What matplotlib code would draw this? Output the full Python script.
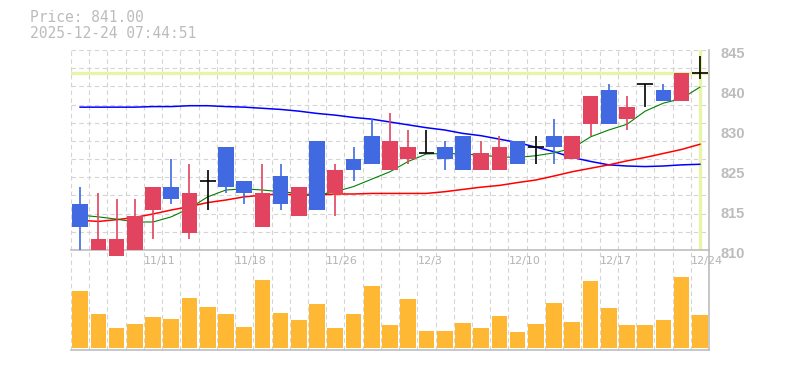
import numpy as np
import matplotlib.pyplot as plt
from matplotlib.transforms import ScaledTranslation

# trading days shown (35 sessions)
dates = ['11/5', '11/6', '11/7', '11/10', '11/11', '11/12', '11/13', '11/14', '11/17', '11/18',
         '11/19', '11/20', '11/21', '11/25', '11/26', '11/27', '11/28', '12/1', '12/2', '12/3',
         '12/4', '12/5', '12/8', '12/9', '12/10', '12/11', '12/12', '12/15', '12/16', '12/17',
         '12/18', '12/19', '12/22', '12/23', '12/24']
date_labels = ['11/11', '11/18', '11/26', '12/3', '12/10', '12/17', '12/24']

opens  = [818, 810, 809, 810, 817, 821, 813, 822, 828, 822, 814, 823, 816, 829, 820, 826, 830, 824,
          826, 827, 828, 830, 824, 824, 829, 828, 830, 826, 832, 838, 833, 839, 838, 836, 841]
highs  = [821, 820, 819, 819, 821, 826, 825, 824, 828, 822, 825, 825, 821, 829, 825, 828, 833, 834,
          831, 831, 829, 830, 829, 830, 829, 830, 833, 830, 837, 839, 837, 839, 839, 841, 844]
lows   = [810, 810, 809, 810, 812, 818, 812, 817, 820, 818, 814, 817, 816, 817, 816, 822, 825, 824,
          825, 827, 824, 824, 824, 824, 825, 825, 825, 826, 830, 832, 831, 835, 836, 836, 840]
closes = [814, 812, 812, 816, 821, 819, 820, 822, 821, 820, 820, 818, 821, 817, 824, 824, 825, 829,
          828, 827, 826, 824, 827, 828, 825, 828, 828, 830, 837, 832, 835, 839, 836, 841, 841]

ma_short = [816.1, 815.8, 815.4, 814.9, 814.9, 815.8, 817.3, 819.3, 820.5, 820.7, 820.5, 820.2,
            819.9, 819.6, 820.2, 821.1, 822.4, 823.7, 825.5, 826.8, 826.9, 826.8, 826.6, 826.3,
            826.2, 826.5, 827.0, 827.8, 829.8, 831.0, 832.0, 834.3, 835.7, 836.5, 838.5]
ma_mid   = [815.2, 815.0, 815.3, 815.7, 816.3, 817.0, 817.6, 818.3, 818.75, 819.3, 819.6, 819.8,
            819.6, 819.6, 819.8, 819.8, 819.9, 819.9, 819.9, 819.9, 820.2, 820.6, 821.0, 821.3,
            821.8, 822.25, 822.95, 823.7, 824.3, 824.9, 825.6, 826.2, 826.9, 827.6, 828.5]
ma_long  = [835.0, 835.0, 835.0, 835.0, 835.1, 835.1, 835.25, 835.25, 835.1, 835.0, 834.8, 834.6,
            834.3, 833.9, 833.6, 833.2, 832.9, 832.4, 831.9, 831.4, 831.0, 830.4, 830.0, 829.4,
            828.8, 828.0, 827.2, 826.2, 825.5, 824.9, 824.7, 824.6, 824.7, 824.9, 825.0]

volume = [57, 34, 20, 24, 31, 29, 50, 41, 34, 21, 68, 35, 28, 44, 20, 34, 62, 23,
          49, 17, 17, 25, 20, 32, 16, 24, 45, 26, 67, 40, 23, 23, 28, 71, 33]

last_price = 841.00
stamp = '2025-12-24 07:44:51'
price_tick_labels = ['810', '815', '825', '830', '840', '845']

UP = '#e2435e'
DOWN = '#4169e1'
GRID = '#d4d4d4'
AXIS = '#bdbdbd'
TXT = '#bcbcbc'
HILITE = '#e6f5a8'

n = len(dates)
x = np.arange(n)

fig = plt.figure(figsize=(7.85, 3.7), dpi=100)
W, H = 785, 370
left, right = 71, 709
axv = fig.add_axes([left / W, (H - 350) / H, (right - left) / W, 100 / H])
ax = fig.add_axes([left / W, (H - 250) / H, (right - left) / W, 200 / H])
ax.patch.set_visible(False)
axv.patch.set_visible(False)

for a in (ax, axv):
    a.set_xlim(-0.5, n - 0.5)
    for s in ('top', 'left'):
        a.spines[s].set_visible(False)
    for s in ('bottom', 'right'):
        a.spines[s].set_color(AXIS)
        a.spines[s].set_linewidth(1.2)
    a.set_xticks(np.arange(n + 1) - 0.5)
    a.grid(True, axis='x', color=GRID, linestyle=(0, (4, 3)), linewidth=0.8)
    a.tick_params(axis='both', length=0)
    a.set_axisbelow(True)

# price panel
ax.set_ylim(810, 845)
for yv in np.linspace(810, 845, 12):
    ax.axhline(yv, color=GRID, linestyle=(0, (4, 3)), linewidth=0.8, zorder=0)
ax.axhline(last_price, color=HILITE, linewidth=2.4, zorder=1)
ax.axvline(x[-1], color=HILITE, linewidth=2.4, zorder=1)

ax.plot(x, ma_long, color='#0000ff', linewidth=1.1, zorder=2)
ax.plot(x, ma_mid, color='#ff0000', linewidth=1.1, zorder=2)
ax.plot(x, ma_short, color='#008000', linewidth=0.8, zorder=2)

bw = 0.86
for i in range(n):
    o, h, l, c = opens[i], highs[i], lows[i], closes[i]
    if c > o:
        col = UP
    elif c < o:
        col = DOWN
    else:
        col = 'black'
    ax.vlines(x[i], l, h, color=col, linewidth=1.2, zorder=3, clip_on=False)
    if c == o:
        ax.hlines(o, x[i] - bw / 2, x[i] + bw / 2, color=col, linewidth=1.2, zorder=3)
    else:
        ax.bar(x[i], abs(c - o), bottom=min(o, c), width=bw, color=col, zorder=4, clip_on=False)

ax.yaxis.tick_right()
ax.set_yticks(np.linspace(810, 845, 6))
ax.set_yticklabels(price_tick_labels, fontsize=10.5, fontweight='bold', color=TXT,
                   family='Liberation Sans')
ax.tick_params(axis='y', pad=8)
for lab in ax.get_yticklabels():
    lab.set_transform(lab.get_transform() + ScaledTranslation(0, -0.03, fig.dpi_scale_trans))

xlabels = [''] * (n + 1)
for d in date_labels:
    xlabels[dates.index(d)] = d
ax.set_xticklabels(xlabels, fontsize=8, color='#b4b4b4', ha='left')
ax.tick_params(axis='x', pad=4)

# volume panel
axv.bar(x, volume, width=bw, color='#ffb833', zorder=3)
axv.set_ylim(-2, 98)
axv.set_yticks([])
axv.set_xticklabels([])

fig.text(30 / W, 1 - 17.7 / H, f'Price: {last_price:.2f}', family='DejaVu Sans Mono',
         fontsize=10.5, color=TXT, va='center')
fig.text(30 / W, 1 - 33.3 / H, stamp, family='DejaVu Sans Mono',
         fontsize=10.5, color=TXT, va='center')

fig.savefig('out.png', dpi=100)
